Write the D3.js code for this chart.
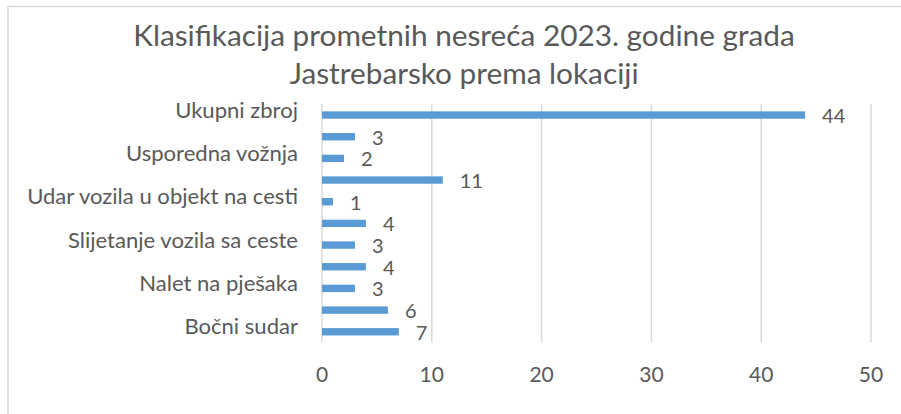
<!DOCTYPE html>
<html lang="hr">
<head>
    <meta charset="UTF-8">
    <title>Klasifikacija prometnih nesreća 2023.</title>
    <script src="https://cdn.jsdelivr.net/npm/d3@7"></script>
    <style>
        body { margin: 0; background: #fff; }
        svg { display: block; }
        text { font-family: Lato, "Open Sans", sans-serif; fill: #595959; }
    </style>
</head>
<body>
<svg></svg>
<script>
    // DATA (top to bottom, as drawn)
    // Excel skips every other category label for lack of room; the skipped names are guesses
    const categories = [
        "Ukupni zbroj", "Ostalo", "Usporedna vožnja", "Sudar u slijeđenju",
        "Udar vozila u objekt na cesti", "Udar u parkirano vozilo",
        "Slijetanje vozila sa ceste", "Vožnja unatrag", "Nalet na pješaka",
        "Čeoni sudar", "Bočni sudar"
    ];
    const values = [44, 3, 2, 11, 1, 4, 3, 4, 3, 6, 7];
    const xTicks = [0, 10, 20, 30, 40, 50];
    const titleLines = ["Klasifikacija prometnih nesreća 2023. godine grada", "Jastrebarsko prema lokaciji"];

    const rows = categories.map((c, i) => ({name: c, value: values[i], showLabel: i % 2 === 0}));

    // CHART dimensions
    const dim = {width: 901, height: 414};
    const plot = {left: 322, right: 871, top: 104.2, bottom: 342.6};

    const svg = d3.select("svg")
        .attr("width", dim.width)
        .attr("height", dim.height);

    // chart area border (only top and left are inside the picture)
    svg.append("rect")
        .attr("x", 8).attr("y", 6.5)
        .attr("width", dim.width + 20).attr("height", dim.height + 20)
        .attr("fill", "none")
        .attr("stroke", "#d9d9d9")
        .attr("stroke-width", 1.5);

    // fit a text to a width, Calibri is not around
    function fitWidth(sel, target) {
        sel.style("font-size", "100px");
        const w = sel.node().getComputedTextLength();
        sel.style("font-size", (100 * target / w) + "px");
    }

    // SCALES
    const x = d3.scaleLinear().domain([0, 50]).range([plot.left, plot.right]);
    const y = d3.scaleBand()
        .domain(categories)
        .range([plot.top, plot.bottom])
        .paddingInner(0.66)
        .paddingOuter(0.33);

    // GRID
    svg.append("g")
        .selectAll("line")
        .data(xTicks)
        .join("line")
            .attr("x1", d => x(d)).attr("x2", d => x(d))
            .attr("y1", plot.top).attr("y2", plot.bottom)
            .attr("stroke", "#d9d9d9")
            .attr("stroke-width", 1.5);

    // X tick labels
    svg.append("g")
        .selectAll("text")
        .data(xTicks)
        .join("text")
            .attr("x", d => x(d))
            .attr("y", 381.5)
            .attr("text-anchor", "middle")
            .style("font-size", "21px")
            .text(d => d);

    // BARS
    const center = d => y(d.name) + y.bandwidth() / 2;
    svg.append("g")
        .selectAll("rect")
        .data(rows)
        .join("rect")
            .attr("x", x(0))
            .attr("y", d => y(d.name))
            .attr("width", d => x(d.value) - x(0))
            .attr("height", y.bandwidth())
            .attr("fill", "#5b9bd5");

    // value labels
    svg.append("g")
        .selectAll("text")
        .data(rows)
        .join("text")
            .attr("x", d => x(d.value) + 17)
            .attr("y", d => center(d) + 8)
            .style("font-size", "20px")
            .text(d => d.value);

    // category labels
    const catLabels = svg.append("g")
        .selectAll("text")
        .data(rows.filter(d => d.showLabel))
        .join("text")
            .attr("x", 298)
            .attr("y", d => center(d) + 2.5)
            .attr("text-anchor", "end")
            .text(d => d.name);
    const longest = catLabels.filter(d => d.name === "Udar vozila u objekt na cesti");
    fitWidth(longest, 271);
    catLabels.style("font-size", longest.style("font-size"));

    // TITLE
    const title = svg.append("g")
        .selectAll("text")
        .data(titleLines)
        .join("text")
            .attr("x", 464)
            .attr("y", (d, i) => 46 + i * 38)
            .attr("text-anchor", "middle")
            .text(d => d);
    fitWidth(title.filter((d, i) => i === 0), 662);
    title.style("font-size", title.filter((d, i) => i === 0).style("font-size"));
</script>
</body>
</html>
